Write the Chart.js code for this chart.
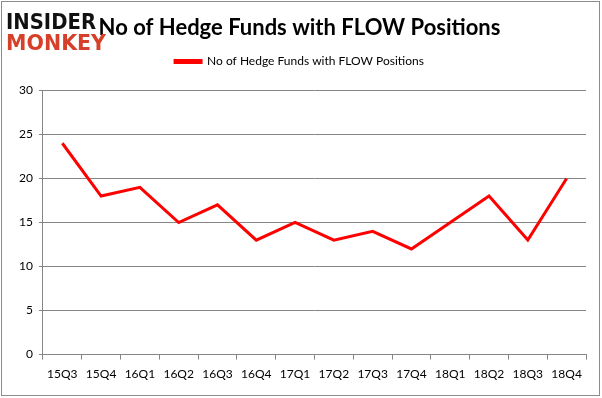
<!DOCTYPE html>
<html>
<head>
  <title>FLOW Hedge Funds</title>
  <script src="https://cdn.jsdelivr.net/npm/chart.js"></script>
  <style>
    body { margin: 0; background: #fff; }
    #wrap { width: 602px; height: 398px; position: relative; }
  </style>
</head>
<body>
  <div id="wrap"><canvas id="chart" width="602" height="398"></canvas></div>
  <script>
    const quarters = ["15Q3", "15Q4", "16Q1", "16Q2", "16Q3", "16Q4", "17Q1", "17Q2", "17Q3", "17Q4", "18Q1", "18Q2", "18Q3", "18Q4"];
    const fundCounts = [24, 18, 19, 15, 17, 13, 15, 13, 14, 12, 15, 18, 13, 20];
    const seriesName = "No of Hedge Funds with FLOW Positions";
    const titleText = "No of Hedge Funds with FLOW Positions";

    // write a word squeezed to a given width
    function fitText(ctx, text, x, y, width) {
      const w = ctx.measureText(text).width;
      ctx.save();
      ctx.translate(x, y);
      ctx.scale(width / w, 1);
      ctx.fillText(text, 0, 0);
      ctx.restore();
    }

    // border + logo drawn on top of the canvas
    const decor = {
      id: "decor",
      afterDraw(chart) {
        const ctx = chart.ctx;
        ctx.save();
        ctx.strokeStyle = "#8c8c8c";
        ctx.lineWidth = 1;
        ctx.strokeRect(1.5, 1.5, 598, 394);
        ctx.textBaseline = "alphabetic";
        ctx.font = "bold 21px 'DejaVu Sans'";
        ctx.fillStyle = "#111";
        fitText(ctx, "INSIDER", 6, 29, 90);
        ctx.fillStyle = "#d6402a";
        fitText(ctx, "MONKEY", 6, 50, 100);
        ctx.restore();
      }
    };

    // extra room between legend and plot
    const legendGap = {
      id: "legendGap",
      beforeInit(chart) {
        const fit = chart.legend.fit;
        chart.legend.fit = function () {
          fit.bind(chart.legend)();
          this.height += 13;
        };
      }
    };

    new Chart(document.getElementById("chart").getContext("2d"), {
      type: "line",
      data: {
        labels: quarters,
        datasets: [{
          label: seriesName,
          data: fundCounts,
          borderColor: "#ff0000",
          backgroundColor: "#ff0000",
          borderWidth: 3,
          pointRadius: 0,
          tension: 0,
          fill: false
        }]
      },
      options: {
        responsive: false,
        animation: false,
        layout: { padding: { left: 13, right: 16, top: 6, bottom: 10 } },
        plugins: {
          title: {
            display: true,
            text: titleText,
            color: "#000",
            font: { family: "Lato", size: 22, weight: "bold" },
            padding: { top: 9, bottom: 4 }
          },
          legend: {
            display: true,
            labels: {
              color: "#000",
              font: { family: "Lato", size: 12 },
              boxWidth: 26,
              boxHeight: 2,
              padding: 10
            }
          },
          tooltip: { enabled: false }
        },
        scales: {
          x: {
            offset: true,
            grid: { drawOnChartArea: false, drawTicks: true, tickLength: 5, offset: true, color: "#868686" },
            border: { color: "#868686" },
            ticks: { color: "#000", font: { family: "Lato", size: 12 }, padding: 7, maxRotation: 0 }
          },
          y: {
            min: 0,
            max: 30,
            ticks: { stepSize: 5, color: "#000", font: { family: "Lato", size: 12 }, padding: 6 },
            grid: { color: "#868686", tickLength: 4 },
            border: { color: "#868686" }
          }
        }
      },
      plugins: [legendGap, decor]
    });
  </script>
</body>
</html>
